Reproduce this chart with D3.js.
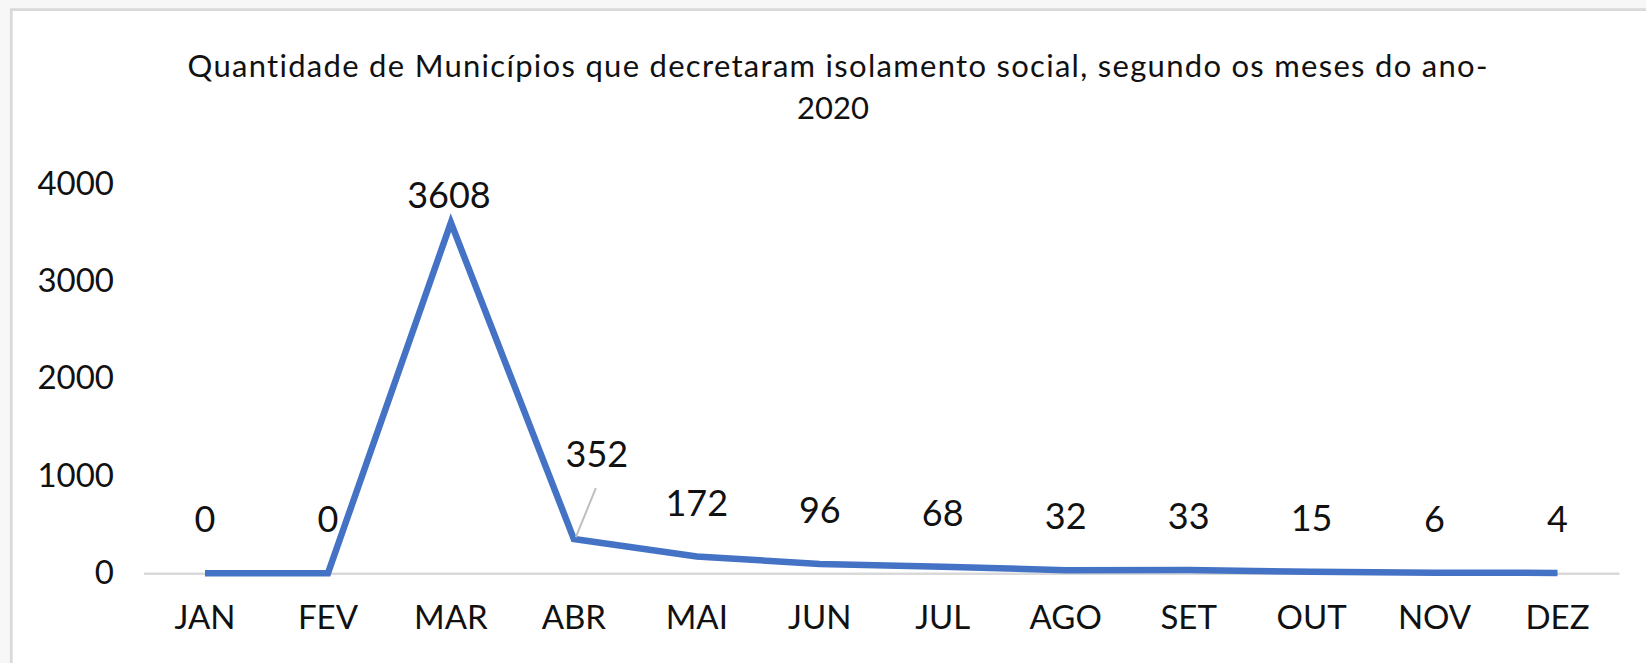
<!DOCTYPE html>
<html>
<head>
<meta charset="utf-8">
<script src="https://cdn.jsdelivr.net/npm/d3@7"></script>
<style>
  html, body { margin: 0; padding: 0; background: #f7f7f7; }
  svg { display: block; }
  text { font-family: Lato, "Open Sans", "Liberation Sans", sans-serif; fill: #111; font-variant-ligatures: none; }
</style>
</head>
<body>
<svg id="chart" width="1646" height="663"></svg>
<script>
// Monthly count of municipalities that decreed social isolation (2020)
const months = ["JAN", "FEV", "MAR", "ABR", "MAI", "JUN", "JUL", "AGO", "SET", "OUT", "NOV", "DEZ"];
const counts = [0, 0, 3608, 352, 172, 96, 68, 32, 33, 15, 6, 4];
const yTicks = [0, 1000, 2000, 3000, 4000];
const titleLines = [
  "Quantidade de Municípios que decretaram isolamento social, segundo os meses do ano-",
  "2020"
];

// Hand-placed data labels (offsets from default position above the point)
const labelNudge = { MAR: { dx: -2, dy: 26 }, ABR: { dx: 23, dy: -31, leader: true } };

const svg = d3.select("#chart");
const W = 1646, H = 663;

// chart frame
svg.append("rect")
  .attr("x", 11.3).attr("y", 9.6)
  .attr("width", W + 20).attr("height", H + 20)
  .attr("fill", "#fff")
  .attr("stroke", "#d9d9d9").attr("stroke-width", 2.7);

const x = d3.scaleBand().domain(months).range([143.5, 1619]).padding(0);
const cx = m => x(m) + x.bandwidth() / 2;
const y = d3.scaleLinear().domain([0, 4000]).range([573.3, 184.5]);

const data = months.map((m, i) => ({ month: m, value: counts[i] }));

// title
const title = svg.append("g");
title.append("text")
  .attr("x", 837.5).attr("y", 77)
  .attr("text-anchor", "middle")
  .attr("font-size", 31)
  .attr("textLength", 1300).attr("lengthAdjust", "spacing")
  .text(titleLines[0]);
title.append("text")
  .attr("x", 833).attr("y", 119)
  .attr("text-anchor", "middle")
  .attr("font-size", 31)
  .text(titleLines[1]);

// y axis labels (no axis line, no gridlines)
const yAxis = svg.append("g")
  .attr("transform", "translate(114,0)")
  .call(d3.axisLeft(y).tickValues(yTicks).tickSize(0).tickPadding(0).tickFormat(d3.format("d")));
yAxis.select(".domain").remove();
yAxis.selectAll("text")
  .attr("font-family", null)
  .attr("font-size", 33)
  .attr("dy", "0.3em")
  .attr("fill", "#111");

// x axis: category line at zero
const xAxis = svg.append("g")
  .attr("transform", `translate(0,${y(0)})`)
  .call(d3.axisBottom(x).tickSize(0).tickSizeOuter(0));
xAxis.select(".domain").attr("stroke", "#d9d9d9").attr("stroke-width", 2.6);
xAxis.selectAll("text")
  .attr("font-family", null)
  .attr("font-size", 33)
  .attr("y", 56).attr("dy", 0)
  .attr("fill", "#111");

// series line
svg.append("path")
  .datum(data)
  .attr("fill", "none")
  .attr("stroke", "#4472c4")
  .attr("stroke-width", 6.5)
  .attr("stroke-linejoin", "miter")
  .attr("stroke-linecap", "butt")
  .attr("d", d3.line().x(d => cx(d.month)).y(d => y(d.value)));

// data labels
const labels = svg.append("g");
data.forEach(d => {
  const n = labelNudge[d.month] || { dx: 0, dy: 0 };
  const lx = cx(d.month) + n.dx;
  const ly = y(d.value) - 41 + n.dy;
  if (n.leader) {
    labels.append("line")
      .attr("x1", lx - 1).attr("y1", ly + 21)
      .attr("x2", cx(d.month) + 2).attr("y2", y(d.value) - 2)
      .attr("stroke", "#bfbfbf").attr("stroke-width", 2);
  }
  labels.append("text")
    .attr("x", lx).attr("y", ly)
    .attr("text-anchor", "middle")
    .attr("font-size", 36)
    .text(d3.format("d")(d.value));
});
</script>
</body>
</html>
